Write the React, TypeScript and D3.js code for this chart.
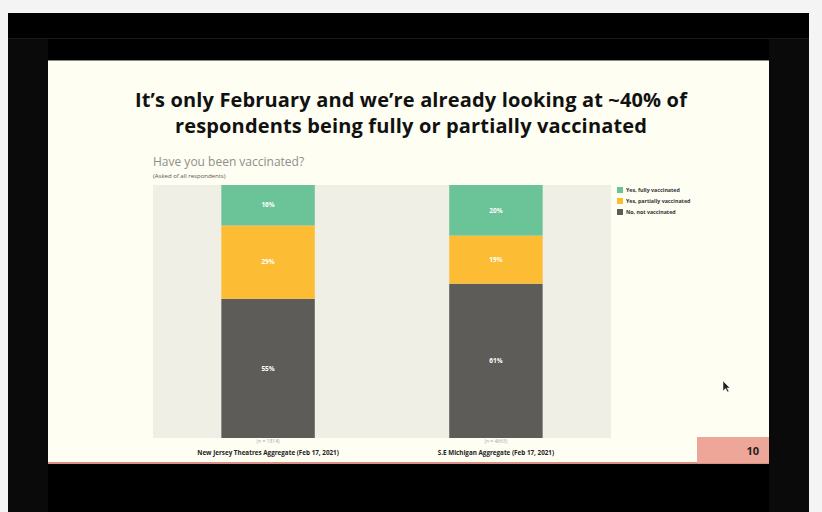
import React, { useEffect, useRef } from "react";
import * as d3 from "d3";

const categories = ["New Jersey Theatres Aggregate (Feb 17, 2021)", "S.E Michigan Aggregate (Feb 17, 2021)"];
const sampleSizes = ["(n = 1814)", "(n = 4663)"];
const seriesNames = ["Yes, fully vaccinated", "Yes, partially vaccinated", "No, not vaccinated"];
const fullyVaccinated = [16, 20];
const partiallyVaccinated = [29, 19];
const notVaccinated = [55, 61];
const colors = ["#6bc398", "#fcbc34", "#5d5c58"];

const App: React.FC = () => {
  const svgRef = useRef<SVGSVGElement | null>(null);

  useEffect(() => {
    if (!svgRef.current) return;
    const svg = d3.select(svgRef.current);
    svg.selectAll("*").remove();
    const width = 822;
    const height = 512;
    svg.attr("width", width).attr("height", height);

    // video frame
    svg.append("rect").attr("width", width).attr("height", height).attr("fill", "#f4f4f4");
    svg.append("rect").attr("x", 8).attr("y", 13).attr("width", 801).attr("height", 499).attr("fill", "#000");
    svg.append("rect").attr("x", 8).attr("y", 38).attr("width", 40).attr("height", 474).attr("fill", "#0a0a0a");
    svg.append("rect").attr("x", 769).attr("y", 38).attr("width", 40).attr("height", 474).attr("fill", "#0a0a0a");
    svg.append("rect").attr("x", 8).attr("y", 38).attr("width", 801).attr("height", 1).attr("fill", "#1a1a1a");

    // slide
    svg.append("rect").attr("x", 48).attr("y", 60).attr("width", 721).attr("height", 404).attr("fill", "#fefef2");
    svg.append("rect").attr("x", 48).attr("y", 60).attr("width", 721).attr("height", 1).attr("fill", "#8a8a80");
    svg.append("rect").attr("x", 48).attr("y", 462).attr("width", 721).attr("height", 2).attr("fill", "#d98f86");

    const title = svg.append("text")
      .attr("x", 411).attr("text-anchor", "middle")
      .attr("font-family", "Open Sans").attr("font-weight", 700)
      .attr("font-size", 20).attr("letter-spacing", 0.15).attr("fill", "#111");
    title.append("tspan").attr("x", 411).attr("y", 107).text("It’s only February and we’re already looking at ~40% of");
    title.append("tspan").attr("x", 411).attr("y", 133).text("respondents being fully or partially vaccinated");

    svg.append("text").attr("x", 153).attr("y", 166)
      .attr("font-family", "Open Sans").attr("font-size", 12).attr("fill", "#8f8f8a")
      .text("Have you been vaccinated?");
    svg.append("text").attr("x", 153).attr("y", 178)
      .attr("font-family", "Open Sans").attr("font-size", 6).attr("fill", "#555")
      .text("(Asked of all respondents)");

    const plot = { left: 153, right: 611, top: 185, bottom: 438 };
    svg.append("rect").attr("x", plot.left).attr("y", plot.top)
      .attr("width", plot.right - plot.left).attr("height", plot.bottom - plot.top)
      .attr("fill", "#efefe5");

    const x = d3.scaleBand().domain(categories).range([plot.left, plot.right]).paddingInner(0.59).paddingOuter(0.3);
    const y = d3.scaleLinear().domain([0, 100]).range([plot.bottom, plot.top]);

    const rows = categories.map((c, i) => ({
      cat: c,
      [seriesNames[0]]: fullyVaccinated[i],
      [seriesNames[1]]: partiallyVaccinated[i],
      [seriesNames[2]]: notVaccinated[i],
    }));
    // stack from bottom: not vaccinated, partially, fully
    const stack = d3.stack<any>().keys([seriesNames[2], seriesNames[1], seriesNames[0]]);
    const layers = stack(rows);

    layers.forEach((layer) => {
      const ci = seriesNames.indexOf(layer.key);
      const g = svg.append("g");
      g.selectAll("rect").data(layer).enter().append("rect")
        .attr("x", d => x(d.data.cat)!)
        .attr("y", d => y(d[1]))
        .attr("width", x.bandwidth())
        .attr("height", d => y(d[0]) - y(d[1]))
        .attr("fill", colors[ci]);
      g.selectAll("text").data(layer).enter().append("text")
        .attr("x", d => x(d.data.cat)! + x.bandwidth() / 2)
        .attr("y", d => (y(d[0]) + y(d[1])) / 2 + 2.2)
        .attr("text-anchor", "middle")
        .attr("font-family", "Open Sans").attr("font-weight", 700)
        .attr("font-size", 6.5).attr("fill", "#fff")
        .text(d => `${d[1] - d[0]}%`);
    });

    categories.forEach((c, i) => {
      const cx = x(c)! + x.bandwidth() / 2;
      svg.append("text").attr("x", cx).attr("y", 443).attr("text-anchor", "middle")
        .attr("font-family", "Open Sans").attr("font-size", 5).attr("fill", "#aaa")
        .text(sampleSizes[i]);
      svg.append("text").attr("x", cx).attr("y", 455).attr("text-anchor", "middle")
        .attr("font-family", "Open Sans").attr("font-weight", 700)
        .attr("font-size", 6.3).attr("fill", "#222")
        .text(c);
    });

    // legend
    const legend = svg.append("g");
    seriesNames.forEach((s, i) => {
      legend.append("rect").attr("x", 617).attr("y", 187 + i * 11).attr("width", 6).attr("height", 6).attr("fill", colors[i]);
      legend.append("text").attr("x", 626).attr("y", 192 + i * 11)
        .attr("font-family", "Open Sans").attr("font-weight", 700)
        .attr("font-size", 5.3).attr("fill", "#333").text(s);
    });

    // page number
    svg.append("rect").attr("x", 697).attr("y", 437).attr("width", 72).attr("height", 26).attr("fill", "#eea699");
    svg.append("text").attr("x", 759).attr("y", 455).attr("text-anchor", "end")
      .attr("font-family", "Open Sans").attr("font-weight", 700)
      .attr("font-size", 11).attr("fill", "#222").text("10");

    // mouse cursor
    svg.append("path").attr("d", "M723,381 L723,391 L725.5,388.5 L727.5,392 L729,391.3 L727,388 L730,388 Z")
      .attr("fill", "#222").attr("stroke", "#fff").attr("stroke-width", 0.5);
  }, []);

  return <svg ref={svgRef} style={{ position: "absolute", left: 0, top: 0 }}></svg>;
};

export default App;
